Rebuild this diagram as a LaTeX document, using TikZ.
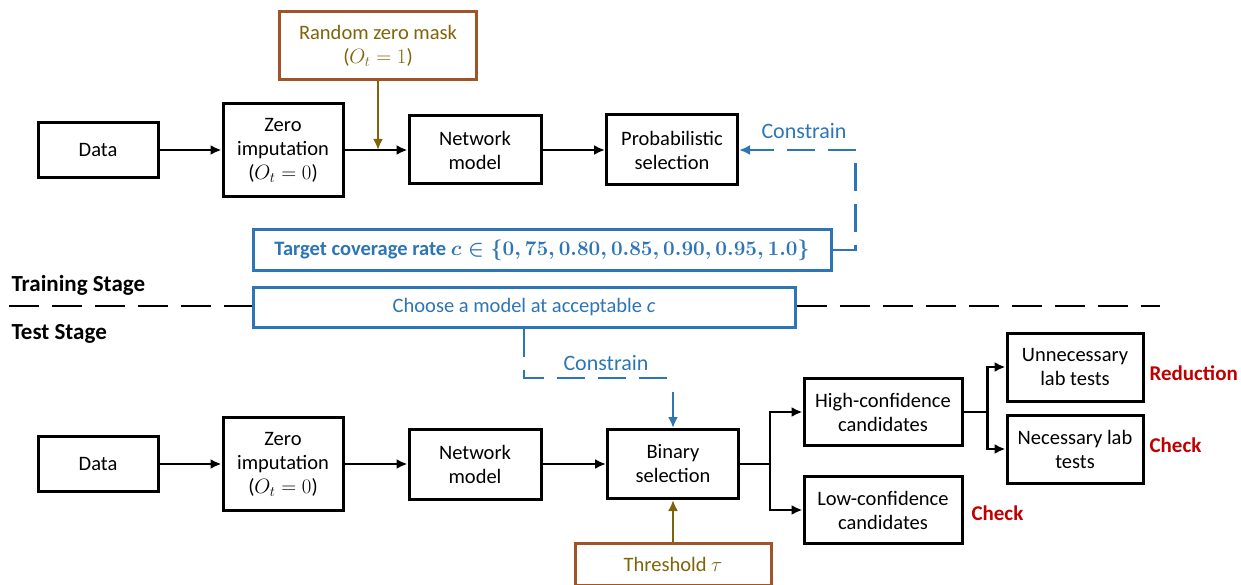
\documentclass[tikz,border=0pt]{standalone}
\usepackage{fontspec}
\setmainfont{Carlito}
\usetikzlibrary{arrows.meta}
\definecolor{myblue}{RGB}{46,117,182}
\definecolor{brownb}{RGB}{160,85,40}
\definecolor{olivet}{RGB}{128,100,10}
\definecolor{myred}{RGB}{192,0,0}
\begin{document}
\begin{tikzpicture}[x=1pt,y=-1pt,
  txt/.style={font=\fontsize{20.5}{24}\selectfont},
  box/.style={txt, draw=black, line width=3pt, fill=white, align=center, inner sep=1pt},
  bluebox/.style={txt, draw=myblue, line width=3pt, fill=white, align=center, text=myblue, inner sep=1pt},
  brbox/.style={txt, draw=brownb, line width=3pt, fill=white, align=center, text=olivet, inner sep=1pt},
  arr/.style={line width=2.8pt, -{Latex[length=11pt,width=10pt]}},
  oarr/.style={arr, draw=olivet},
  barr/.style={arr, draw=myblue},
  bdash/.style={draw=myblue, line width=2.8pt, dash pattern=on 28pt off 13pt},
  kdash/.style={draw=black, line width=2.8pt, dash pattern=on 30pt off 13pt},
  stage/.style={font=\bfseries\fontsize{23}{27}\selectfont, anchor=west},
  redl/.style={text=myred, font=\bfseries\fontsize{21}{25}\selectfont, anchor=west},
  bluel/.style={font=\fontsize{22}{26}\selectfont, text=myblue}]
\useasboundingbox (0,0) rectangle (1241,585);

% ---------- training stage ----------
\node[brbox, minimum width=197pt, minimum height=68pt] (mask) at (378,46) {Random zero mask\\($O_t = 1$)};
\node[box, minimum width=120pt, minimum height=55pt] (data1) at (98,150) {Data};
\node[box, minimum width=120pt, minimum height=93pt] (zi1) at (283,150) {Zero\\imputation\\($O_t = 0$)};
\node[box, minimum width=132pt, minimum height=68pt] (nm1) at (475,150) {Network\\model};
\node[box, minimum width=131pt, minimum height=70pt] (ps1) at (672,150) {Probabilistic\\selection};

\draw[arr] (data1) -- (zi1);
\draw[arr] (zi1) -- (nm1);
\draw[arr] (nm1) -- (ps1);
\draw[oarr] (mask.south) -- (mask.south |- zi1.east);

\node[bluebox, minimum width=578pt, minimum height=40pt] (target) at (542,250)
  {\textbf{Target coverage rate} {\boldmath$c \in \{0,75, 0.80, 0.85, 0.90, 0.95, 1.0\}$}};
\draw[bdash] (target.east) -- ++(23,0) |- (ps1.east);
\draw[barr] (ps1.east) ++(14,0) -- (ps1.east);
\node[bluel] (con1) at (804,131) {Constrain};

% ---------- separator ----------
\node[stage] (train) at (8,285) {Training Stage};
\node[stage] (test) at (8,334) {Test Stage};
\node[bluebox, minimum width=542pt, minimum height=40pt] (choose) at (524,307) {Choose a model at acceptable \textit{c}};
\coordinate (sepL) at (9,306);
\coordinate (sepR) at (1160,306);
\draw[kdash] (sepL) -- (choose.west |- sepL);
\draw[kdash] (choose.east |- sepR) -- (sepR);

% ---------- test stage ----------
\node[box, minimum width=120pt, minimum height=55pt] (data2) at (98,464) {Data};
\node[box, minimum width=120pt, minimum height=93pt] (zi2) at (283,464) {Zero\\imputation\\($O_t = 0$)};
\node[box, minimum width=132pt, minimum height=70pt] (nm2) at (475,464) {Network\\model};
\node[box, minimum width=131pt, minimum height=69pt] (bs) at (673,464) {Binary\\selection};
\node[brbox, minimum width=196pt, minimum height=42pt] (thr) at (673,564) {Threshold $\tau$};

\draw[arr] (data2) -- (zi2);
\draw[arr] (zi2) -- (nm2);
\draw[arr] (nm2) -- (bs);
\draw[oarr] (thr.north) -- (bs.south);

\coordinate (cb) at (673,378);
\coordinate (cb2) at (673,392);
\draw[bdash] (choose.south) |- (cb);
\draw[barr] (cb2) -- (bs.north);
\node[bluel] (con2) at (606,363) {Constrain};

\node[box, minimum width=158pt, minimum height=67pt] (hc) at (883,412) {High-confidence\\candidates};
\node[box, minimum width=158pt, minimum height=67pt] (lc) at (883,510) {Low-confidence\\candidates};
\node[box, minimum width=136pt, minimum height=68pt] (un) at (1075,367) {Unnecessary\\lab tests};
\node[box, minimum width=136pt, minimum height=68pt] (ne) at (1075,449) {Necessary lab\\tests};

\draw[arr] (bs.east) -- ++(30,0) |- (hc.west);
\draw[arr] (bs.east) -- ++(30,0) |- (lc.west);
\draw[arr] (hc.east) -- ++(24,0) |- (un.west);
\draw[arr] (hc.east) -- ++(24,0) |- (ne.west);

\node[redl] (red1) at (1146,373) {Reduction};
\node[redl] (chk1) at (1146,445) {Check};
\node[redl] (chk2) at (968,513) {Check};
\end{tikzpicture}
\end{document}
